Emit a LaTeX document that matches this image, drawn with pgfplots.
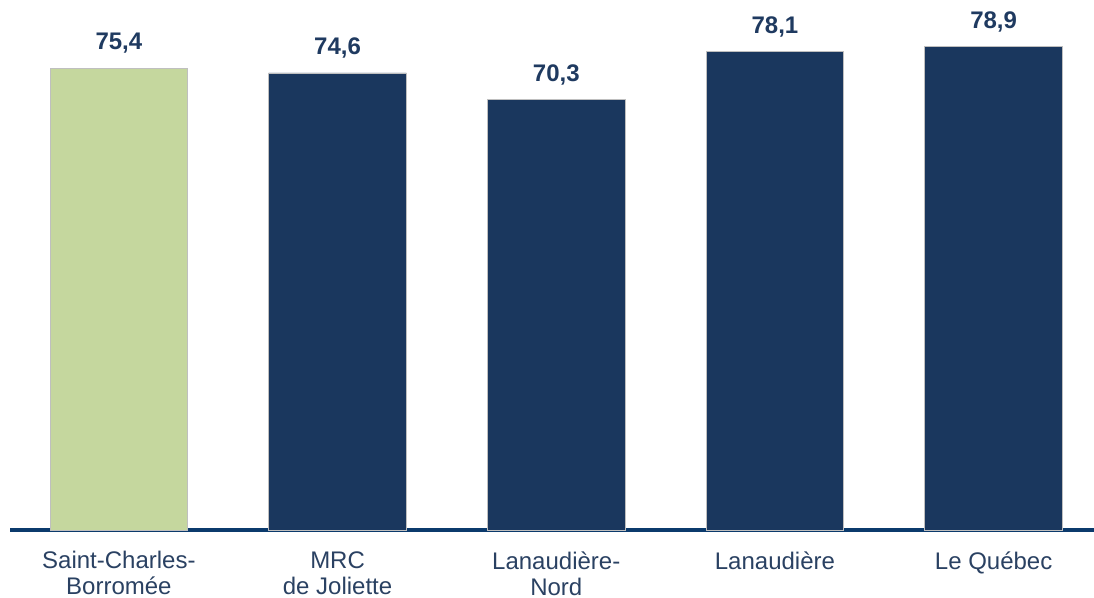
\documentclass[border=0pt]{standalone}
\usepackage{pgfplots}
\pgfplotsset{compat=1.18}
\usepackage{fontspec}
\setmainfont{Liberation Sans}
\definecolor{barblue}{HTML}{1A375E}
\definecolor{bargreen}{HTML}{C5D79E}
\definecolor{axisblue}{HTML}{0B3A6C}
\definecolor{txtblue}{HTML}{2A4162}
\definecolor{valblue}{HTML}{1F3A60}
\begin{document}
\begin{tikzpicture}
\useasboundingbox (-5pt,-34pt) rectangle (542pt,265pt);
\begin{axis}[
  at={(0,0)}, anchor=south west,
  scale only axis, width=542pt, height=265pt,
  xmin=-0.498, xmax=4.459, ymin=0, ymax=86.5,
  axis x line=bottom, axis y line=none,
  x axis line style={-, draw=axisblue, line width=2pt},
  xtick={0,1,2,3,4},
  xticklabels={Saint-Charles-\\Borromée, MRC\\de Joliette, Lanaudière-\\Nord, Lanaudière, Le Québec},
  major tick length=0pt,
  xticklabel style={align=center, font=\fontsize{12}{13}\selectfont, text=txtblue, inner sep=0pt, anchor=north, yshift=-10.5pt},
  ytick=\empty,
  bar width=0.63,
  ybar, bar shift=0pt,
  nodes near coords={\bfseries\pgfmathprintnumber{\pgfplotspointmeta}},
  nodes near coords style={font=\fontsize{12}{14}\selectfont, text=valblue, anchor=south, inner sep=0pt, yshift=7pt, /pgf/number format/.cd, assume math mode=true, use comma, fixed, fixed zerofill, precision=1},
  clip=false,
]
\addplot[fill=bargreen, draw=black!25, line width=0.4pt] coordinates {(0,75.4)};
\addplot[fill=barblue, draw=black!25, line width=0.4pt] coordinates {(1,74.6) (2,70.3) (3,78.1) (4,78.9)};
\end{axis}
\end{tikzpicture}
\end{document}
